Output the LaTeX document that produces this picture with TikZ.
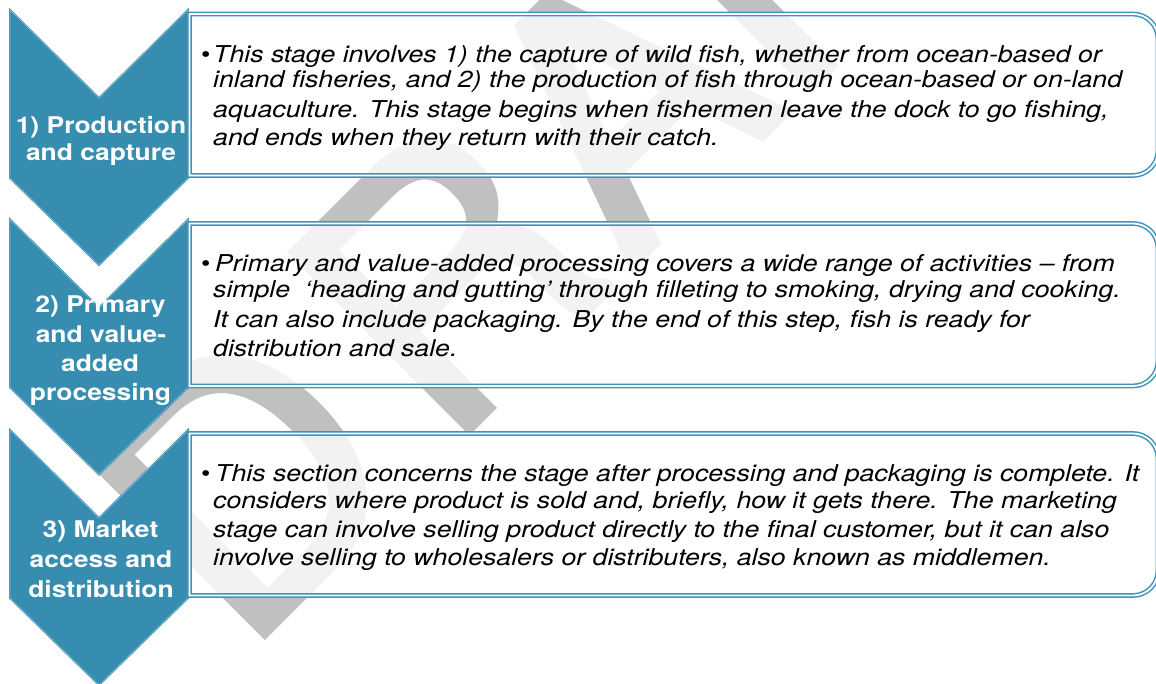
\documentclass[tikz,border=0pt]{standalone}
\usepackage{fontspec}
\setmainfont{TeX Gyre Heros}[FakeStretch=1.15]
\newfontfamily\wmfont{TeX Gyre Heros}[FakeBold=2]
\definecolor{chevblue}{RGB}{54,141,175}
\definecolor{chevedge}{RGB}{120,180,205}
\definecolor{boxblue}{RGB}{62,148,186}
\definecolor{wmgray}{RGB}{192,192,192}
\tikzset{
  chevron/.style={fill=chevblue, draw=chevblue, line width=0.5pt, double=chevedge, double distance=0.8pt},
  stagebox/.style={fill=white, fill opacity=0.8, draw=boxblue, line width=1.5pt, double=white, double distance=1.8pt},
  label/.style={anchor=base, inner sep=0pt, text=white, font=\fontsize{23}{27}\selectfont\bfseries},
  body/.style={anchor=base west, inner sep=0pt, font=\fontsize{23.2}{28}\selectfont\itshape},
  dot/.style={anchor=base west, inner sep=0pt, font=\fontsize{23.2}{28}\selectfont},
  wmletter/.style={anchor=base west, inner sep=0pt, text=wmgray, font=\wmfont\fontsize{345}{345}\selectfont}
}
\begin{document}
\begin{tikzpicture}[x=1pt,y=-1pt]
\useasboundingbox (0,0) rectangle (1156,683);

% watermark letters along a 45 degree baseline, behind everything
\begin{scope}[shift={(243,657)}, rotate=45, transform shape]
  \node[wmletter] (wmD) at (0,0)   {D};
  \node[wmletter] (wmR) at (288,0) {R};
  \node[wmletter] (wmA) at (545,0) {A};
  \node[wmletter] (wmF) at (772,0) {F};
  \node[wmletter] (wmT) at (985,0) {T};
\end{scope}

% down-pointing chevrons
\foreach \t in {10,219.5,430}{
  \draw[chevron] (10,\t) -- (99,\t+88) -- (188,\t) -- (188,\t+168)
     -- (99,\t+255) -- (10,\t+168) -- cycle;
}

% text boxes, square on the left, rounded on the right
\foreach \t/\b in {14/175.5, 223.5/386, 433.5/595.5}{
  \draw[stagebox] (189.5,\t) -- (1133,\t) .. controls (1146.8,\t) and (1158,\t+11.2) .. (1158,\t+25)
     -- (1158,\b-25) .. controls (1158,\b-11.2) and (1146.8,\b) .. (1133,\b) -- (189.5,\b) -- cycle;
}

% stage labels
\node[label] (l1a) at (101,133) {1) Production};
\node[label] (l1b) at (101,160) {and capture};
\node[label] (l2a) at (100.5,312) {2) Primary};
\node[label] (l2b) at (101,342) {and value-};
\node[label] (l2c) at (100,371.5) {added};
\node[label] (l2d) at (100.5,400) {processing};
\node[label] (l3a) at (100.5,537) {3) Market};
\node[label] (l3b) at (101,567) {access and};
\node[label] (l3c) at (101,597) {distribution};

% box 1
\node[dot] (d1) at (201,62) {•};
\node[body] (t1a) at (213,62) {This stage involves 1) the capture of wild fish, whether from ocean-based or};
\node[body] (t1b) at (213,87.5) {inland fisheries, and 2) the production of fish through ocean-based or on-land};
\node[body] (t1c) at (213,117) {aquaculture. This stage begins when fishermen leave the dock to go fishing,};
\node[body] (t1d) at (213,145) {and ends when they return with their catch.};

% box 2
\node[dot] (d2) at (201,271) {•};
\node[body] (t2a) at (215,271) {Primary and value-added processing covers a wide range of activities – from};
\node[body] (t2b) at (213,297.5) {simple\ \ ‘heading and gutting’ through filleting to smoking, drying and cooking.};
\node[body] (t2c) at (213,327) {It can also include packaging. By the end of this step, fish is ready for};
\node[body] (t2d) at (213,356.5) {distribution and sale.};

% box 3
\node[dot] (d3) at (201,481) {•};
\node[body] (t3a) at (215,481) {This section concerns the stage after processing and packaging is complete. It};
\node[body] (t3b) at (213,508) {considers where product is sold and, briefly, how it gets there. The marketing};
\node[body] (t3c) at (213,537) {stage can involve selling product directly to the final customer, but it can also};
\node[body] (t3d) at (213,565) {involve selling to wholesalers or distributers, also known as middlemen.};
\end{tikzpicture}
\end{document}
